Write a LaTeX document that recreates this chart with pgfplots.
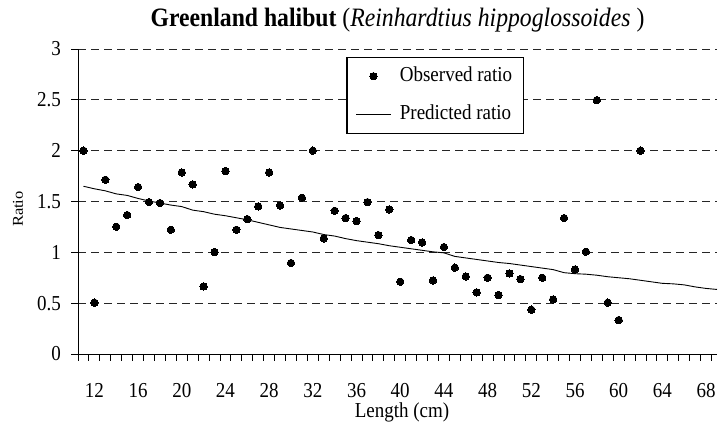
\documentclass[border=0pt]{standalone}
\usepackage{fontspec}
\setmainfont{Liberation Serif}
\usepackage{graphicx}
\usepackage{pgfplots}
\usepackage{pgfplotstable}
\pgfplotsset{compat=1.18}
\newcommand\vs[1]{\scalebox{1}[1.12]{#1}}
\pgfplotstableread{
x y
11 2.00
12 0.505
13 1.714
14 1.252
15 1.367
16 1.642
17 1.494
18 1.485
19 1.222
20 1.786
21 1.668
22 0.665
23 1.003
24 1.80
25 1.222
26 1.327
27 1.452
28 1.786
29 1.461
30 0.895
31 1.537
32 2.00
33 1.137
34 1.409
35 1.337
36 1.308
37 1.494
38 1.170
39 1.422
40 0.711
41 1.121
42 1.097
43 0.724
44 1.052
45 0.849
46 0.763
47 0.606
48 0.750
49 0.580
50 0.793
51 0.737
52 0.436
53 0.750
54 0.537
55 1.337
56 0.832
57 1.006
58 2.497
59 0.505
60 0.334
62 2.00
}\observed
\pgfplotstableread{
x y
11 1.650
12 1.625
13 1.605
14 1.575
15 1.560
16 1.530
17 1.505
18 1.485
19 1.465
20 1.450
21 1.415
22 1.400
23 1.375
24 1.360
25 1.340
26 1.320
27 1.295
28 1.270
29 1.245
30 1.230
31 1.215
32 1.200
33 1.175
34 1.160
35 1.135
36 1.115
37 1.100
38 1.085
39 1.065
40 1.050
41 1.035
42 1.020
43 1.005
44 0.995
45 0.960
46 0.945
47 0.930
48 0.915
49 0.900
50 0.890
51 0.875
52 0.860
53 0.845
54 0.830
55 0.800
56 0.790
57 0.785
58 0.775
59 0.760
60 0.750
61 0.740
62 0.725
63 0.710
64 0.695
65 0.690
66 0.680
67 0.660
68 0.645
69 0.635
}\predicted
\begin{document}
\begin{tikzpicture}
\path[use as bounding box] (0pt,0pt) rectangle (720pt,429pt);
\begin{axis}[
  at={(78pt,75pt)}, anchor=south west,
  scale only axis, width=639pt, height=305pt,
  xmin=10.5, xmax=69, ymin=0, ymax=3,
  axis x line=bottom, axis y line=left,
  axis line style={-, line width=1pt, black},
  clip=false,
  font=\fontsize{19}{21}\selectfont,
  xtick={10.5,11.5,...,68.5},
  xticklabels={},
  major tick length=6.5pt,
  tick align=outside,
  tick style={line width=1pt, black},
  extra x ticks={12,16,...,68},
  extra x tick labels={\vs{12},\vs{16},\vs{20},\vs{24},\vs{28},\vs{32},\vs{36},\vs{40},\vs{44},\vs{48},\vs{52},\vs{56},\vs{60},\vs{64},\vs{68}},
  extra x tick style={major tick length=0pt, tick label style={yshift=-26pt}},
  ytick={0,0.5,...,3},
  yticklabels={\vs{0},\vs{0.5},\vs{1},\vs{1.5},\vs{2},\vs{2.5},\vs{3}},
  yticklabel style={xshift=-7pt},
  ymajorgrids,
  grid style={black!85, line width=0.8pt, dash pattern=on 8pt off 5pt},
  xlabel={\vs{Length (cm)}},
  xlabel style={at={(axis description cs:0.507,0)}, anchor=center, yshift=-58pt},
  ylabel={\scalebox{1.1}[1]{Ratio}},
  ylabel style={at={(axis description cs:-0.094,0.475)}, anchor=center, font=\fontsize{15}{17}\selectfont},
  title={\scalebox{1}[1.12]{\textbf{Greenland halibut} (\textit{Reinhardtius hippoglossoides} )}},
  title style={at={(axis description cs:0.5,1)}, anchor=center, yshift=23pt, font=\fontsize{23.7}{26}\selectfont},
  legend image code/.code={\draw[mark repeat=2,mark phase=2,#1] plot coordinates {(0pt,0pt) (17pt,0pt) (35pt,0pt)};},
  legend cell align=left,
  legend style={at={(axis description cs:0.42,0.975)}, anchor=north west, draw=black, line width=1.2pt,
    inner xsep=9pt, inner ysep=8pt, row sep=16pt, column sep=6pt, font=\fontsize{19}{21}\selectfont,
    nodes={inner sep=2pt, text height=14pt, text depth=4pt}},
]
\addplot[only marks, mark=*, mark size=3.7pt, black, mark options={line width=0pt}] table[x=x,y=y] {\observed};
\addlegendentry{\vs{Observed ratio}}
\addplot[black, line width=0.9pt, mark=none] table[x=x,y=y] {\predicted};
\addlegendentry{\vs{Predicted ratio}}
\end{axis}
\end{tikzpicture}
\end{document}
